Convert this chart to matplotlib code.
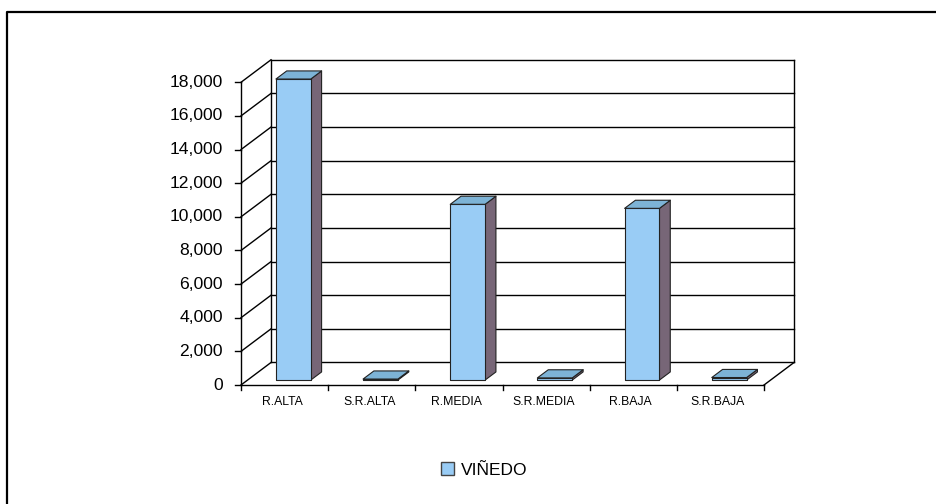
import matplotlib.pyplot as plt
from matplotlib.patches import Polygon, Patch
from matplotlib.lines import Line2D

plt.rcParams['font.family'] = ['Liberation Sans', 'DejaVu Sans']

# DATA
categories = ['R.ALTA', 'S.R.ALTA', 'R.MEDIA', 'S.R.MEDIA', 'R.BAJA', 'S.R.BAJA']
vinedo = [17900, 60, 10450, 130, 10210, 150]
y_ticks = list(range(0, 18001, 2000))
series_name = 'VIÑEDO'

# STYLE
FRONT = '#99CCF5'
TOP = '#7DB3D6'
SIDE = '#776677'
DX = 0.344     # depth offset in category units
DY = 1338      # depth offset in value units
F0, F1 = 0.22, 0.58
BAR_W = 0.40
BAR_C = 0.525

W, H = 936, 504
fig = plt.figure(figsize=(W / 100, H / 100), dpi=100)
ax = fig.add_axes([0, 0, 1, 1])
ax.axis('off')

# pixel mapping: cat 0 at x=241, 87.17 px per cat; value 0 at y=385, 0.016817 px per unit
px_c, px_v = 87.17, 0.016817
ax.set_xlim(-241 / px_c, (W - 241) / px_c)
ax.set_ylim((385 - H) / px_v, 385 / px_v)

n = len(categories)
top_v = y_ticks[-1]
lk = dict(color='black', lw=1.0, zorder=1)


def pt(c, v, f):
    return (c + f * DX, v + f * DY)


# back wall gridlines
for t in y_ticks:
    ax.plot([DX, n + DX], [t + DY, t + DY], **lk)
ax.plot([DX, DX], [DY, top_v + DY], **lk)
ax.plot([n + DX, n + DX], [DY, top_v + DY], **lk)

# left wall diagonals
for t in y_ticks:
    ax.plot([0, DX], [t, t + DY], **lk)
ax.plot([0, 0], [0, top_v], **lk)

# floor
ax.plot([0, n], [0, 0], **lk)
ax.plot([n, n + DX], [0, DY], **lk)
for i in range(n + 1):
    ax.plot([i, i], [0, -5 / px_v], **lk)

# y ticks and labels
for t in y_ticks:
    ax.plot([-6 / px_c, 0], [t, t], **lk)
    ax.text(-18 / px_c, t, f'{t:,}', ha='right', va='center', fontsize=12.6)

# category labels
for i, name in enumerate(categories):
    ax.text(i + 0.47, -17 / px_v, name, ha='center', va='center', fontsize=8.8)

# bars
for i, v in enumerate(vinedo):
    xl = i + BAR_C - BAR_W / 2
    xr = xl + BAR_W
    front = [pt(xl, 0, F0), pt(xr, 0, F0), pt(xr, v, F0), pt(xl, v, F0)]
    side = [pt(xr, 0, F0), pt(xr, 0, F1), pt(xr, v, F1), pt(xr, v, F0)]
    top = [pt(xl, v, F0), pt(xr, v, F0), pt(xr, v, F1), pt(xl, v, F1)]
    for poly, col in [(side, SIDE), (front, FRONT), (top, TOP)]:
        ax.add_patch(Polygon(poly, closed=True, facecolor=col, edgecolor='#222222',
                             lw=0.8, zorder=3, joinstyle='round'))

# legend
fig.legend(handles=[Patch(facecolor=FRONT, edgecolor='#444444', lw=1.0, label=series_name)],
           loc='center', bbox_to_anchor=(484 / W, 1 - 470 / H), frameon=False,
           fontsize=12.5, handlelength=0.75, handleheight=0.75, handletextpad=0.4)

# outer border (left and top)
fig.add_artist(Line2D([6.5 / W, 6.5 / W, 1], [0, 1 - 12 / H, 1 - 12 / H],
                      transform=fig.transFigure, color='black', lw=1.6))

fig.savefig('out.png', dpi=100)
